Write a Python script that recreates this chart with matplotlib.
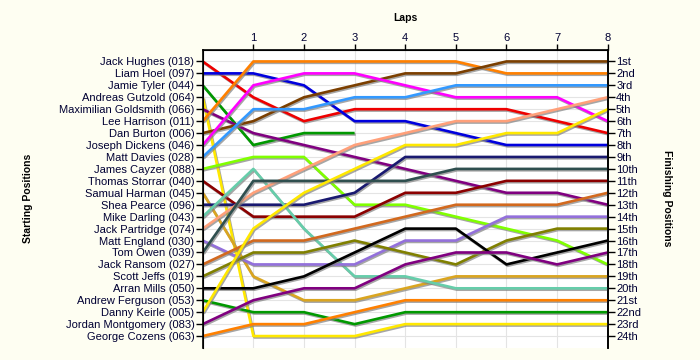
#!/usr/bin/env python3
"""Lap-by-lap position chart: starting grid on the left, finishing order on the right."""
import numpy as np
import matplotlib
matplotlib.use("Agg")
import matplotlib.pyplot as plt
import matplotlib.patheffects as pe

plt.rcParams["font.family"] = ["Liberation Sans", "DejaVu Sans"]

LAPS = [0, 1, 2, 3, 4, 5, 6, 7, 8]

RIDERS = [
    "Jack Hughes (018)", "Liam Hoel (097)", "Jamie Tyler (044)", "Andreas Gutzold (064)",
    "Maximilian Goldsmith (066)", "Lee Harrison (011)", "Dan Burton (006)",
    "Joseph Dickens (046)", "Matt Davies (028)", "James Cayzer (088)",
    "Thomas Storrar (040)", "Samual Harman (045)", "Shea Pearce (096)",
    "Mike Darling (043)", "Jack Partridge (074)", "Matt England (030)",
    "Tom Owen (039)", "Jack Ransom (027)", "Scott Jeffs (019)", "Arran Mills (050)",
    "Andrew Ferguson (053)", "Danny Keirle (005)", "Jordan Montgomery (083)",
    "George Cozens (063)",
]

# position at each lap (lap 0 = grid), None = retired
POSITIONS = [
    [1, 4, 6, 5, 5, 5, 5, 6, 7],
    [2, 2, 3, 6, 6, 7, 8, 8, 8],
    [3, 8, 7, 7, None, None, None, None, None],
    [4, 24, 24, 24, 23, 23, 23, 23, 23],
    [5, 7, 8, 9, 10, 11, 12, 12, 13],
    [6, 1, 1, 1, 1, 1, 2, 2, 2],
    [7, 6, 4, 3, 2, 2, 1, 1, 1],
    [8, 3, 2, 2, 3, 4, 4, 4, 6],
    [9, 5, 5, 4, 4, 3, 3, 3, 3],
    [10, 9, 9, 13, 13, 14, 15, 16, 18],
    [11, 14, 14, 14, 12, 12, 11, 11, 11],
    [12, 19, 21, 21, 20, 19, 19, 19, 19],
    [13, 13, 13, 12, 9, 9, 9, 9, 9],
    [14, 10, 15, 19, 19, 20, 20, 20, 20],
    [15, 12, 10, 8, 7, 6, 6, 5, 4],
    [16, 18, 18, 18, 16, 16, 14, 14, 14],
    [17, 11, 11, 11, 11, 10, 10, 10, 10],
    [18, 16, 16, 15, 14, 13, 13, 13, 12],
    [19, 17, 17, 16, 17, 18, 16, 15, 15],
    [20, 20, 19, 17, 15, 15, 18, 17, 16],
    [21, 22, 22, 23, 22, 22, 22, 22, 22],
    [22, 15, 12, 10, 8, 8, 7, 7, 5],
    [23, 21, 20, 20, 18, 17, 17, 18, 17],
    [24, 23, 23, 22, 21, 21, 21, 21, 21],
]

COLORS = [
    "#EE0000", "#0000DD", "#009900", "#FFE800", "#800080", "#FF8000", "#7B3F00",
    "#FF00FF", "#3399FF", "#80FF00", "#8B0000", "#DAA520", "#191970", "#66CDAA",
    "#FFA07A", "#9370DB", "#2F4F4F", "#D2691E", "#808000", "#000000",
    "#009900", "#FFE800", "#800080", "#FF8000",
]

FINISH_LABELS = [
    "1st", "2nd", "3rd", "4th", "5th", "6th", "7th", "8th", "9th", "10th",
    "11th", "12th", "13th", "14th", "15th", "16th", "17th", "18th", "19th",
    "20th", "21st", "22nd", "23rd", "24th",
]

TEXT_COL = "#000033"

fig = plt.figure(figsize=(7, 3.6), dpi=100, facecolor="#FEFEF2")
ax = fig.add_axes([0.2896, 0.0333, 0.5786, 0.8292])
ax.set_facecolor("white")

rows = np.arange(1, len(RIDERS) + 1)
shadow = [pe.SimpleLineShadow(offset=(0.8, -1.0), shadow_color="#808080", alpha=0.7),
          pe.Normal()]
for pos, col in zip(POSITIONS, COLORS):
    y = np.array([np.nan if p is None else p for p in pos], dtype=float)
    ax.plot(LAPS, y, color=col, lw=1.9, solid_capstyle="butt",
            path_effects=shadow, zorder=3)

ax.set_xlim(0, 8)
ax.set_ylim(25, 0)

# grid
for r in rows:
    ax.axhline(r, color="#E4E4E4", lw=0.8, zorder=1)
for lap in LAPS[1:-1]:
    ax.axvline(lap, color="#E4E4E4", lw=0.8, zorder=1)

# top axis with lap numbers
ax.xaxis.tick_top()
ax.set_xticks(LAPS[1:])
ax.set_xticklabels([str(l) for l in LAPS[1:]], fontsize=8, color=TEXT_COL)
ax.tick_params(axis="x", direction="out", length=4, width=1, pad=1)

ax.set_yticks(rows)
ax.set_yticklabels(RIDERS, fontsize=8, color=TEXT_COL)
ax.tick_params(axis="y", direction="out", length=5, width=1, pad=1)

for side in ("left", "top", "right"):
    ax.spines[side].set_linewidth(1.2)
ax.spines["bottom"].set_visible(False)

ax2 = ax.twinx()
ax2.set_ylim(25, 0)
ax2.set_yticks(rows)
ax2.set_yticklabels(FINISH_LABELS, fontsize=8, color=TEXT_COL)
ax2.tick_params(axis="y", direction="out", length=5, width=1, pad=1)
ax2.spines["right"].set_linewidth(1.2)
ax2.spines["bottom"].set_visible(False)

# axis titles placed where the original puts them
fig.text(0.579, 0.95, "Laps", fontsize=7.5, fontweight="bold",
         ha="center", va="center")
fig.text(0.04, 0.45, "Starting Positions", fontsize=7.5, fontweight="bold",
         rotation=90, ha="center", va="center")
fig.text(0.953, 0.45, "Finishing Positions", fontsize=7.5, fontweight="bold",
         rotation=-90, ha="center", va="center")

fig.savefig("out.png", dpi=100, facecolor=fig.get_facecolor())
